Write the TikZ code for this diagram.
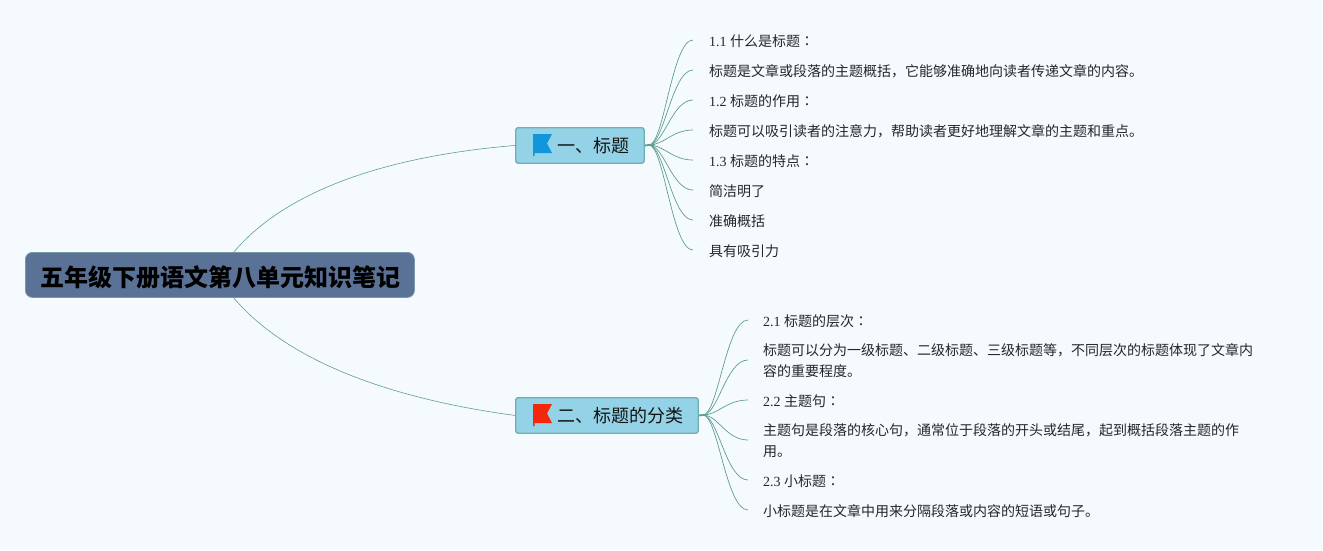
\documentclass[tikz,border=0pt]{standalone}
\usepackage{fontspec}
\setmainfont{Liberation Serif}
\newfontfamily\cjk{Noto Sans CJK SC}
\newfontfamily\cjktc{Noto Sans CJK TC}
\definecolor{bgc}{HTML}{F5FAFF}
\definecolor{rootc}{HTML}{5B7297}
\definecolor{rootb}{HTML}{7C97A6}
\definecolor{brc}{HTML}{94D3E7}
\definecolor{brb}{HTML}{70B0AC}
\definecolor{linec}{HTML}{5F9E8F}
\newcommand{\cn}[1]{{\cjk #1}}
\newcommand{\colonmark}{{\cjktc ：}}
\tikzset{
  x=1pt,y=-1pt,
  rootbox/.style={draw=rootb,fill=rootc,line width=0.8pt,rounded corners=7pt,minimum width=389pt,minimum height=45pt,inner sep=0pt,anchor=north west},
  roottext/.style={font=\cjk\bfseries\fontsize{24}{28}\selectfont,text=black,inner sep=0pt},
  branchbox/.style={draw=brb,fill=brc,line width=1.4pt,rounded corners=2.5pt,minimum height=35.5pt,inner sep=0pt,anchor=north west},
  branchtext/.style={anchor=west,inner sep=0pt,font=\cjk\fontsize{18}{20}\selectfont,text=black!92},
  leaf/.style={anchor=west,inner ysep=0pt,inner xsep=0pt,align=left,font=\fontsize{14}{21}\selectfont,text=black!85},
  wire/.style={draw=linec,line width=0.7pt},
  rootwire/.style={draw=linec,line width=0.6pt},
  stub/.style={draw=linec,line width=1.8pt}
}
\begin{document}
\begin{tikzpicture}
\useasboundingbox[fill=bgc] (0,0) rectangle (1323,550);
% free connector ends
\coordinate (r1) at (233,253);
\coordinate (r2) at (233,297);
\coordinate (f1) at (649,145);
\coordinate (f2) at (703,415);
\coordinate (k1) at (664,145);
\coordinate (h1) at (672,145);
\coordinate (k2) at (718,415);
\coordinate (h2) at (726,415);
% nodes
\node[rootbox] (root) at (25,252) {};
\node[roottext] (roott) at (220.5,277) {五年级下册语文第八单元知识笔记};
\node[branchbox,minimum width=128.5pt] (b1) at (515,127) {};
\node[branchbox,minimum width=182.5pt] (b2) at (515,397) {};
\node[branchtext] (b1t) at (557,146) {一、标题};
\node[branchtext] (b2t) at (557,416) {二、标题的分类};
% flags
\fill[fill={rgb,255:red,18;green,150;blue,219}] (533,134) -- (552,134) -- (547,143.5) -- (552,153) -- (534.5,153) -- (534.5,156) -- (533,156) -- cycle;
\fill[fill={rgb,255:red,244;green,39;blue,10}] (533,404) -- (552,404) -- (547,413.5) -- (552,423) -- (534.5,423) -- (534.5,426) -- (533,426) -- cycle;
% leaves of branch one
\coordinate (a1) at (693,40);
\coordinate (a2) at (693,70);
\coordinate (a3) at (693,100);
\coordinate (a4) at (693,130);
\coordinate (a5) at (693,160);
\coordinate (a6) at (693,190);
\coordinate (a7) at (693,220);
\coordinate (a8) at (693,250);
\node[leaf] (l1) at (709,41) {1.1 \cn{什么是标题}\colonmark};
\node[leaf] (l2) at (709,71) {\cn{标题是文章或段落的主题概括，它能够准确地向读者传递文章的内容。}};
\node[leaf] (l3) at (709,101) {1.2 \cn{标题的作用}\colonmark};
\node[leaf] (l4) at (709,131) {\cn{标题可以吸引读者的注意力，帮助读者更好地理解文章的主题和重点。}};
\node[leaf] (l5) at (709,161) {1.3 \cn{标题的特点}\colonmark};
\node[leaf] (l6) at (709,191) {\cn{简洁明了}};
\node[leaf] (l7) at (709,221) {\cn{准确概括}};
\node[leaf] (l8) at (709,251) {\cn{具有吸引力}};
% leaves of branch two
\coordinate (c1) at (748,320);
\coordinate (c2) at (748,360);
\coordinate (c3) at (748,400);
\coordinate (c4) at (748,440);
\coordinate (c5) at (748,480);
\coordinate (c6) at (748,510);
\node[leaf] (m1) at (763,321) {2.1 \cn{标题的层次}\colonmark};
\node[leaf] (m2) at (763,361) {\cn{标题可以分为一级标题、二级标题、三级标题等，不同层次的标题体现了文章内}\\\cn{容的重要程度。}};
\node[leaf] (m3) at (763,401) {2.2 \cn{主题句}\colonmark};
\node[leaf] (m4) at (763,441) {\cn{主题句是段落的核心句，通常位于段落的开头或结尾，起到概括段落主题的作}\\\cn{用。}};
\node[leaf] (m5) at (763,481) {2.3 \cn{小标题}\colonmark};
\node[leaf] (m6) at (763,511) {\cn{小标题是在文章中用来分隔段落或内容的短语或句子。}};
% connectors
\draw[rootwire] (r1) .. controls (290,185) and (400,155) .. (b1.west);
\draw[rootwire] (r2) .. controls (290,365) and (400,400) .. (b2.west);
\draw[stub] (b1.east) -- (f1);
\draw[stub] (b2.east) -- (f2);
\foreach \e in {a1,a2,a3,a4,a5,a6,a7,a8}
  \draw[wire] (f1) .. controls (k1) and (h1 |- \e) .. (\e);
\foreach \e in {c1,c2,c3,c4,c5,c6}
  \draw[wire] (f2) .. controls (k2) and (h2 |- \e) .. (\e);
\end{tikzpicture}
\end{document}
